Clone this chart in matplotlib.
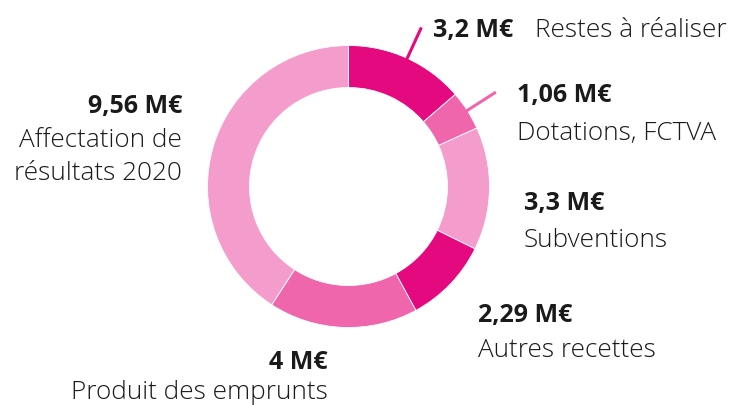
import numpy as np
import matplotlib
matplotlib.use("Agg")
import matplotlib.pyplot as plt

# Data
categories = ["Restes à réaliser", "Dotations, FCTVA", "Subventions",
              "Autres recettes", "Produit des emprunts", "Affectation de\nrésultats 2020"]
values = [3.2, 1.06, 3.3, 2.29, 4.0, 9.56]
value_labels = ["3,2 M€", "1,06 M€", "3,3 M€", "2,29 M€", "4 M€", "9,56 M€"]

DARK, MED, LIGHT = "#e4097f", "#ef66ad", "#f49ccb"
colors = [DARK, MED, LIGHT, DARK, MED, LIGHT]

W, H = 730, 406
fig = plt.figure(figsize=(W / 100, H / 100), dpi=100)
ax = fig.add_axes([0, 0, 1, 1])

cx, cy = 348.5, H - 187.5
R = 141
width = 42

wedges, _ = ax.pie(values, colors=colors, startangle=90, counterclock=False,
                   center=(cx, cy), radius=R,
                   wedgeprops=dict(width=width, edgecolor="white", linewidth=0.6))

ax.set_xlim(0, W)
ax.set_ylim(0, H)
ax.set_aspect("equal")
ax.axis("off")

# leader lines for the two top-right slices
total = sum(values)
cum = np.cumsum([0] + values)
for i in (0, 1):
    mid = 90 - (cum[i] + values[i] / 2) / total * 360
    th = np.deg2rad(mid)
    r0, r1 = R - width / 2 - 2, 175
    ax.plot([cx + r0 * np.cos(th), cx + r1 * np.cos(th)],
            [cy + r0 * np.sin(th), cy + r1 * np.sin(th)],
            color=colors[i], lw=2.2, solid_capstyle="butt", zorder=5)

FS_B = 18
FS_R = 18.8
TXT = "#1a1a1a"
bold = dict(fontsize=FS_B, fontweight="bold", color=TXT, family="Open Sans", va="baseline")
reg = dict(fontsize=FS_R, fontweight="light", color=TXT, family="Open Sans", va="baseline")

def Y(y):
    return H - y

# 3,2 M€ Restes à réaliser
ax.text(433, Y(37), value_labels[0], ha="left", **bold)
ax.text(535, Y(37), categories[0], ha="left", **reg)
# 1,06 M€
ax.text(517, Y(102), value_labels[1], ha="left", **bold)
ax.text(517, Y(140), categories[1], ha="left", **reg)
# 3,3 M€
ax.text(524, Y(210), value_labels[2], ha="left", **bold)
ax.text(524, Y(247), categories[2], ha="left", **reg)
# 2,29 M€
ax.text(478, Y(322), value_labels[3], ha="left", **bold)
ax.text(478, Y(357), categories[3], ha="left", **reg)
# 4 M€
ax.text(328, Y(369), value_labels[4], ha="right", **bold)
ax.text(328, Y(399), categories[4], ha="right", **reg)
# 9,56 M€
ax.text(182, Y(113), value_labels[5], ha="right", **bold)
lines = categories[5].split("\n")
ax.text(182, Y(147), lines[0], ha="right", **reg)
ax.text(182, Y(180), lines[1], ha="right", **reg)

fig.savefig("out.png", dpi=100, facecolor="white")
